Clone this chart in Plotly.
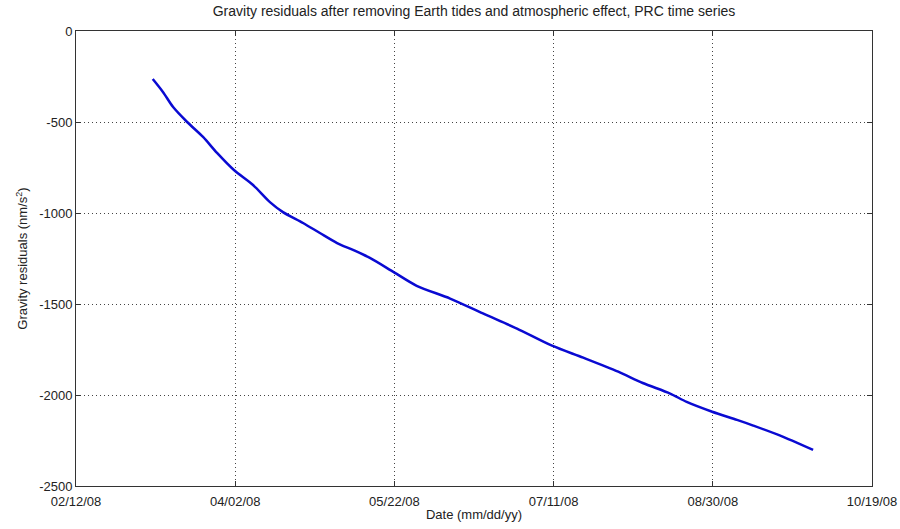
import pandas as pd
import plotly.graph_objects as go

# Gravity residual trend, sampled along the PRC record
start_date = "2008-02-12"
days_since_start = [24.1, 27.3, 30.5, 34.9, 39.9, 44.3, 49.6, 55.6, 60.9, 65.0,
                    71.3, 76.6, 82.0, 87.0, 92.3, 99.9, 107.0, 117.5, 127.8,
                    138.5, 149.5, 159.3, 170.3, 178.0, 186.6, 191.8, 199.8,
                    207.6, 212.7, 221.0, 231.5]
residuals = [-264, -335, -418, -500, -582, -670, -764, -846, -940, -995,
             -1055, -1110, -1165, -1203, -1247, -1326, -1400, -1470, -1552,
             -1635, -1729, -1795, -1872, -1934, -1992, -2038, -2092,
             -2137, -2168, -2222, -2302]

tick_days = [0, 50, 100, 150, 200, 250]
y_ticks = [0, -500, -1000, -1500, -2000, -2500]

t0 = pd.Timestamp(start_date)
dates = [t0 + pd.Timedelta(days=d) for d in days_since_start]
tick_dates = [t0 + pd.Timedelta(days=d) for d in tick_days]
tick_text = [d.strftime("%m/%d/%y") for d in tick_dates]

font = dict(family="Liberation Sans, Arial, sans-serif", size=13, color="#222222")

fig = go.Figure(
    go.Scatter(x=dates, y=residuals, mode="lines",
               line=dict(color="#0a0ad2", width=2.5, shape="spline", smoothing=0.8),
               showlegend=False)
)

axis_common = dict(
    showline=True, linecolor="#333333", linewidth=1, mirror="ticks",
    ticks="inside", ticklen=5, tickcolor="#333333",
    showgrid=True, gridcolor="#444444", gridwidth=1, griddash="1px,3px",
    zeroline=False, tickfont=font, automargin=False,
)

fig.update_layout(
    width=900, height=529,
    margin=dict(l=76, r=28, t=31, b=43),
    paper_bgcolor="white", plot_bgcolor="white",
    font=font,
    title=dict(text="Gravity residuals after removing Earth tides and atmospheric effect, PRC time series",
               x=(76 + 872) / 2 / 900, xanchor="center", y=1 - 11 / 529, yanchor="middle",
               font=dict(size=14, color="#222222")),
    xaxis=dict(range=[tick_dates[0], tick_dates[-1]], tickvals=tick_dates, ticktext=tick_text,
               ticklabelstandoff=3,
               title=dict(text="Date (mm/dd/yy)", standoff=2, font=font), **axis_common),
    yaxis=dict(range=[-2500, 0], tickvals=y_ticks, ticktext=[str(v) for v in y_ticks],
               title=dict(text="Gravity residuals (nm/s<sup>2</sup>)", standoff=8, font=font),
               **axis_common),
)

fig.write_html("out.html")
